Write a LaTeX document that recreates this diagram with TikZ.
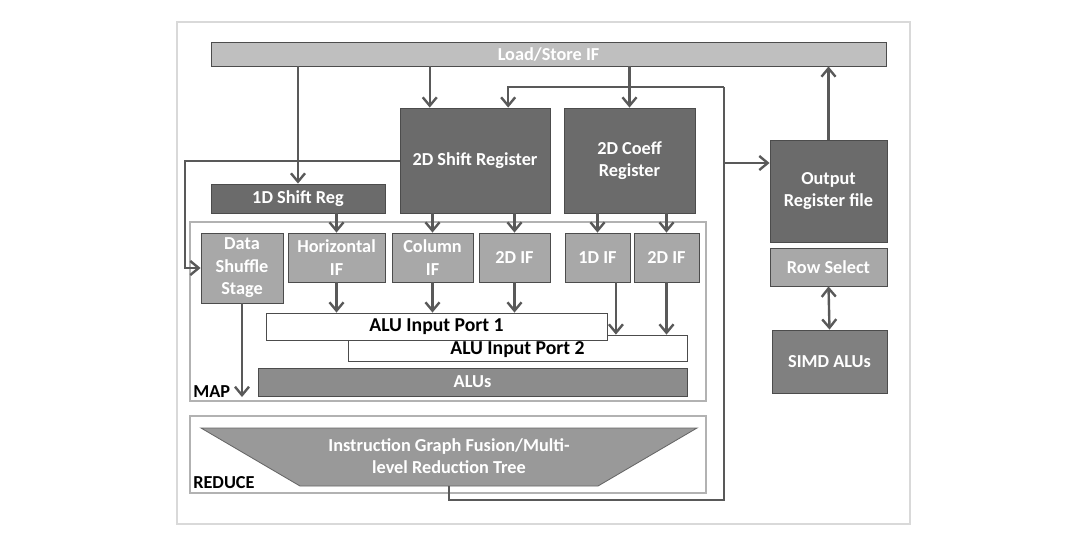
\documentclass[tikz,border=0pt]{standalone}
\usepackage{fontspec}
\setmainfont{Carlito}
\usetikzlibrary{arrows.meta,calc,positioning}

\begin{document}
\begin{tikzpicture}[x=0.025cm,y=-0.025cm,
  sz/.style 2 args={minimum width=#1*0.025cm, minimum height=#2*0.025cm},
  blk/.style={draw=black!70, line width=0.6pt, inner sep=0pt, text=white,
    font=\bfseries\fontsize{13}{16}\selectfont, align=center},
  dark/.style={blk, fill=black!58},
  mid/.style={blk, fill=black!47},
  light/.style={blk, fill=black!34},
  port/.style={blk, fill=white, text=black, font=\bfseries\fontsize{14}{16}\selectfont},
  frame/.style={draw=black!30, line width=0.9pt, fill=white, inner sep=0pt},
  tag/.style={font=\bfseries\fontsize{13}{15}\selectfont, inner sep=0pt, anchor=south west},
  wire/.style={draw=black!65, line width=1.7pt},
  arr/.style={wire, -{Straight Barb[length=6pt,width=10pt,line width=1.7pt]}},
  both/.style={wire, {Straight Barb[length=6pt,width=10pt,line width=1.7pt]}-{Straight Barb[length=6pt,width=10pt,line width=1.7pt]}},
  ]
\useasboundingbox (0,0) rectangle (1070,541);
\draw[draw=black!15, line width=1pt] (177,22) rectangle (910,524);

% memory side
\node[blk, fill=black!25, sz={675}{24}] (ls) at (548.5,54) {Load/Store IF};
\node[dark, sz={150}{105}] (sr2) at (475,160.5) {2D Shift Register};
\node[dark, sz={131}{105}] (coef) at (629.5,160.5) {2D Coeff\\Register};
\node[dark, sz={174}{29}] (sr1) at (298,198.5) {1D Shift Reg};

% map stage
\node[frame, sz={516}{179}] (map) at (448,311.5) {};
\node[tag] (maplbl) at (193,398) {MAP};
\node[light, sz={82}{70}] (dss) at (242,268) {Data\\Shuffle\\Stage};
\node[light, sz={97}{49}] (hor) at (336.5,257.5) {Horizontal\\IF};
\node[light, sz={81}{49}] (col) at (432.5,257.5) {Column\\IF};
\node[light, sz={71}{49}] (ifa) at (514.5,257.5) {2D IF};
\node[light, sz={65}{49}] (ifb) at (597.5,257.5) {1D IF};
\node[light, sz={65}{49}] (ifc) at (666.5,257.5) {2D IF};
\node[port, sz={339}{26}, text depth=0pt] (port2) at (517.5,348) {ALU Input Port 2};
\node[port, sz={341}{27}] (port1) at (436.5,326.5) {ALU Input Port 1};
\node[mid, fill=black!45, sz={429}{28}] (alus) at (472.5,382) {ALUs};

% reduce stage
\node[frame, sz={516}{77}] (red) at (448,454.5) {};
\draw[draw=black!60, line width=0.6pt, fill=black!40]
  (201,428) -- (697,428) -- (598,486) -- (300,486) -- cycle;
\node[blk, draw=none] (tree) at (449,456)
  {Instruction Graph Fusion/Multi-\\level Reduction Tree};
\node[tag] (redlbl) at (193,489) {REDUCE};

% output side
\node[dark, sz={117}{102}] (out) at (828.5,191) {Output\\Register file};
\node[light, sz={117}{38}] (rsel) at (828.5,267) {Row Select};
\node[mid, fill=black!50, sz={115}{63}] (simd) at (829.5,361.5) {SIMD ALUs};

\coordinate (srin) at ($(sr2.north west)!0.2!(sr2.north east)$);
\coordinate (srloop) at ($(sr2.north west)!0.72!(sr2.north east)$);
\coordinate (fb) at (185,161);
\coordinate (treebot) at (449,486);
\coordinate (lp2) at (724,500);
\coordinate (lp3) at (724,87);
\coordinate (br) at (724,163);
\coordinate (dssend) at (242,397);
\coordinate (ifbout) at ($(ifb.south west)!0.78!(ifb.south east)$);

% connectors
\draw[arr] (ls.south -| sr1) -- (sr1.north);
\draw[arr] (ls.south -| srin) -- (srin);
\draw[arr] (ls.south -| coef) -- (coef.north);
\draw[arr] (out.north) -- (out.north |- ls.south);
\draw[arr] (sr2.west |- fb) -- (fb) |- (dss.west);
\draw[arr] (sr1.south -| hor) -- (hor.north);
\draw[arr] (sr2.south -| col) -- (col.north);
\draw[arr] (sr2.south -| ifa) -- (ifa.north);
\draw[arr] (coef.south -| ifb) -- (ifb.north);
\draw[arr] (coef.south -| ifc) -- (ifc.north);
\draw[arr] (hor.south) -- (hor.south |- port1.north);
\draw[arr] (col.south) -- (col.south |- port1.north);
\draw[arr] (ifa.south) -- (ifa.south |- port1.north);
\draw[arr] (ifbout) -- (ifbout |- port2.north);
\draw[arr] (ifc.south) -- (ifc.south |- port2.north);
\draw[arr] (dss.south) -- (dssend);
\draw[wire, line width=1.2pt] (treebot) |- (lp2) -- (lp3);
\draw[arr] (lp3) -| (srloop);
\draw[arr] (br) -- (br -| out.west);
\draw[both] (rsel.south) -- (simd.north);
\end{tikzpicture}
\end{document}
